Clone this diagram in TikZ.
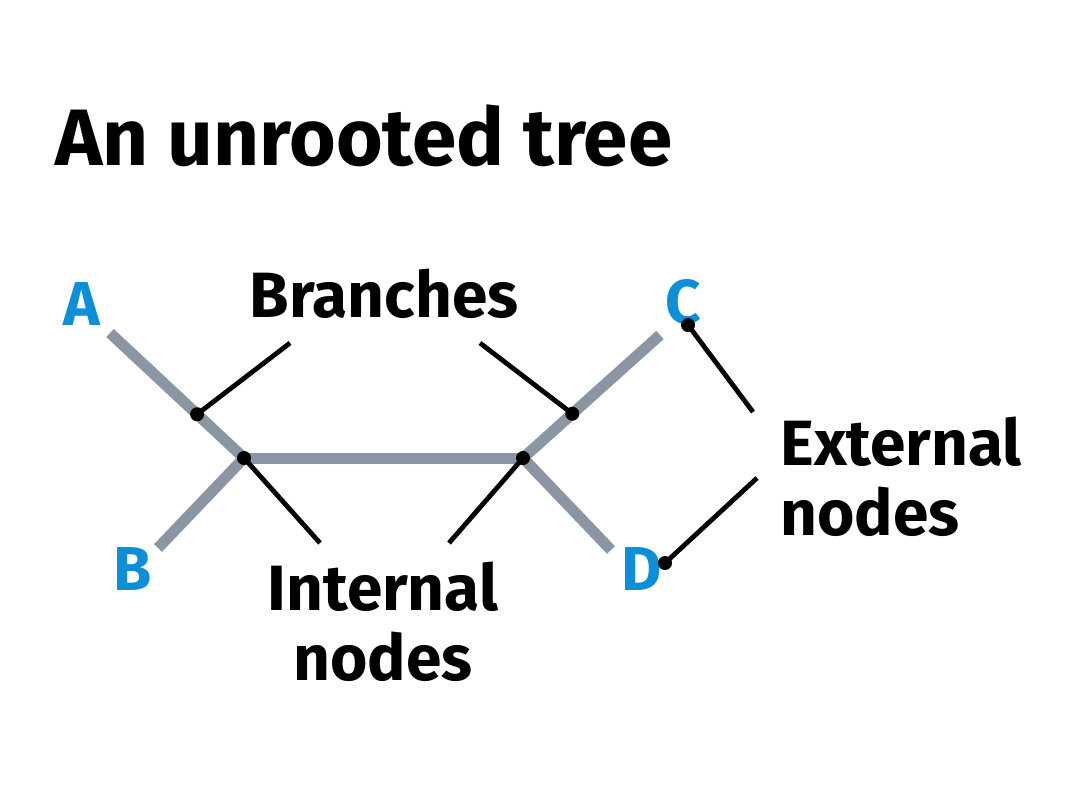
\documentclass[tikz,border=0pt]{standalone}
\usepackage{fontspec}
\setsansfont{Fira Sans}
\renewcommand{\familydefault}{\sfdefault}
\usetikzlibrary{calc}
\definecolor{treegrey}{RGB}{138,150,163}
\definecolor{leafblue}{RGB}{12,143,216}
\begin{document}
\begin{tikzpicture}[x=0.5pt, y=-0.5pt,
  branch/.style={draw=treegrey, line width=5.5pt},
  leader/.style={draw=black, line width=2.4pt},
  tip/.style={circle, fill=black, inner sep=0pt, minimum size=7pt},
  leaf/.style={font=\fontsize{31}{36}\selectfont\bfseries, text=leafblue, inner sep=0pt, anchor=base},
  callout/.style={font=\fontsize{32}{35}\selectfont\bfseries, align=center, inner sep=0pt}]
\useasboundingbox[fill=white] (0,0) rectangle (1080,810);
% title
\node[anchor=base west, inner sep=0pt, font=\fontsize{40}{46}\selectfont\bfseries] (title) at (55,165) {An unrooted tree};
% tree
\coordinate (inL) at (244,458);
\coordinate (inR) at (523,458);
\coordinate (endA) at (110,333);
\coordinate (endB) at (158,548);
\coordinate (endC) at (660,335);
\coordinate (endD) at (611,550);
\draw[branch] (endA) -- (inL) -- (endB);
\draw[branch] (inL) -- (inR);
\draw[branch] (endC) -- (inR) -- (endD);
% leaf labels
\foreach \lbl/\x/\y in {A/82/325, B/133/590, C/683/323, D/642/590}
  \node[leaf] (lbl\lbl) at (\x,\y) {\lbl};
% callouts (base = last line)
\node[callout, anchor=base] (branches) at (384,317) {Branches};
\node[callout, anchor=base] (internal) at (383,680) {Internal\\nodes};
\node[callout, anchor=base west, align=left] (external) at (780,535) {External\\nodes};
% leader ends
\coordinate (brL) at ($(endA)!0.65!(inL)$);
\coordinate (brR) at ($(inR)!0.36!(endC)$);
\coordinate (dotC) at (688,325);
\coordinate (dotD) at (665,563);
\coordinate (qL) at (290,343);
\coordinate (qR) at (480,343);
\coordinate (qIL) at (320,543);
\coordinate (qIR) at (449,543);
\coordinate (qEC) at (753,412);
\coordinate (qED) at (757,478);
\draw[leader] (qL) -- (brL);
\draw[leader] (qR) -- (brR);
\draw[leader] (qIL) -- (inL);
\draw[leader] (qIR) -- (inR);
\draw[leader] (qEC) -- (dotC);
\draw[leader] (qED) -- (dotD);
\foreach \p in {brL, brR, inL, inR, dotC, dotD}
  \node[tip] at (\p) {};
\end{tikzpicture}
\end{document}
